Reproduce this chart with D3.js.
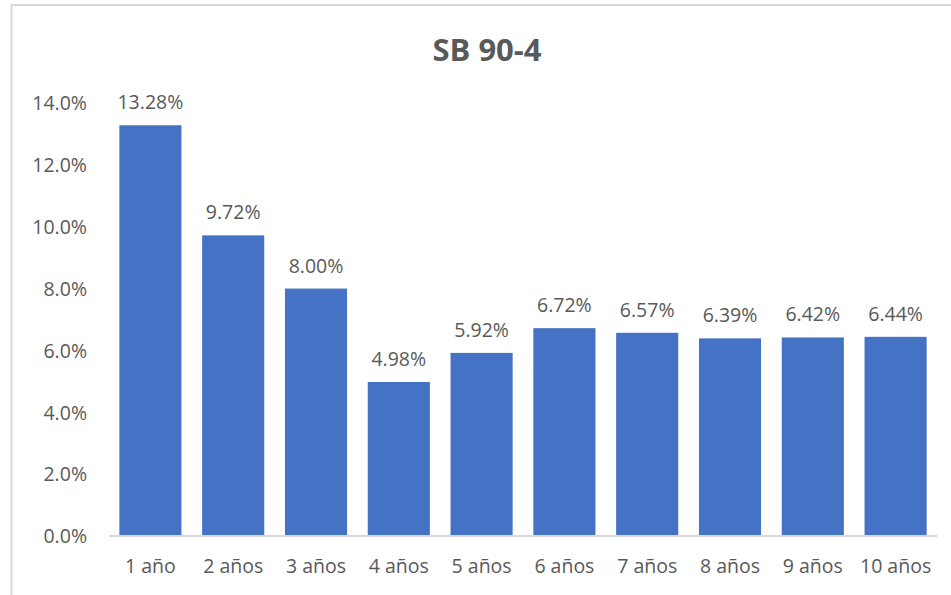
<!DOCTYPE html>
<html><head><meta charset="utf-8">
<script src="https://cdn.jsdelivr.net/npm/d3@7"></script>
<style>body{margin:0;background:#fff}svg{display:block}</style>
</head><body>
<svg id="c" width="951" height="595"></svg>
<script>
const categories = ["1 año","2 años","3 años","4 años","5 años","6 años","7 años","8 años","9 años","10 años"];
const values = [13.28, 9.72, 8.00, 4.98, 5.92, 6.72, 6.57, 6.39, 6.42, 6.44];
const yTicks = [0, 2, 4, 6, 8, 10, 12, 14];
const title = "SB 90-4";

const svg = d3.select("#c");
const font = "'Open Sans', 'Noto Sans', sans-serif";
const grey = "#595959";

// chart border (top and left visible)
svg.append("line").attr("x1",11).attr("x2",951).attr("y1",5).attr("y2",5).attr("stroke","#d9d9d9").attr("stroke-width",2);
svg.append("line").attr("x1",11.5).attr("x2",11.5).attr("y1",4).attr("y2",595).attr("stroke","#d9d9d9").attr("stroke-width",2);

const x = d3.scaleBand().domain(categories).range([109, 937]).paddingInner(0.25).paddingOuter(0.125);
const y = d3.scaleLinear().domain([0, 14]).range([536, 103]);

svg.append("text").attr("x", 487).attr("y", 61).attr("text-anchor","middle")
  .attr("font-family", font).attr("font-weight","bold").attr("font-size", 31).attr("fill", grey).text(title);

// y axis labels
const yAxis = d3.axisLeft(y).tickValues(yTicks).tickFormat(d => d.toFixed(1) + "%").tickSize(0).tickPadding(0);
const ya = svg.append("g").attr("transform","translate(87,0)").call(yAxis);
ya.select(".domain").remove();
ya.selectAll("text").attr("font-family", font).attr("font-size", 19.5).attr("fill", grey).attr("dy","0.35em");

// bars
svg.append("g").selectAll("rect").data(values).join("rect")
  .attr("x", (d,i) => x(categories[i]))
  .attr("width", x.bandwidth())
  .attr("y", d => y(d))
  .attr("height", d => y(0) - y(d))
  .attr("fill", "#4472C4");

// data labels
svg.append("g").selectAll("text").data(values).join("text")
  .attr("x", (d,i) => x(categories[i]) + x.bandwidth()/2)
  .attr("y", d => y(d) - 16)
  .attr("text-anchor","middle").attr("font-family", font).attr("font-size", 19.5).attr("fill", grey)
  .text(d => d.toFixed(2) + "%");

// x axis
const xAxis = d3.axisBottom(x).tickSize(0).tickPadding(0);
const xa = svg.append("g").attr("transform","translate(0,536)").call(xAxis);
xa.select(".domain").attr("stroke","#d9d9d9").attr("stroke-width",2).attr("d","M109,0H937");
xa.selectAll("text").attr("font-family", font).attr("font-size", 19.5).attr("fill", grey).attr("dy","0").attr("y", 37);
</script>
</body></html>
